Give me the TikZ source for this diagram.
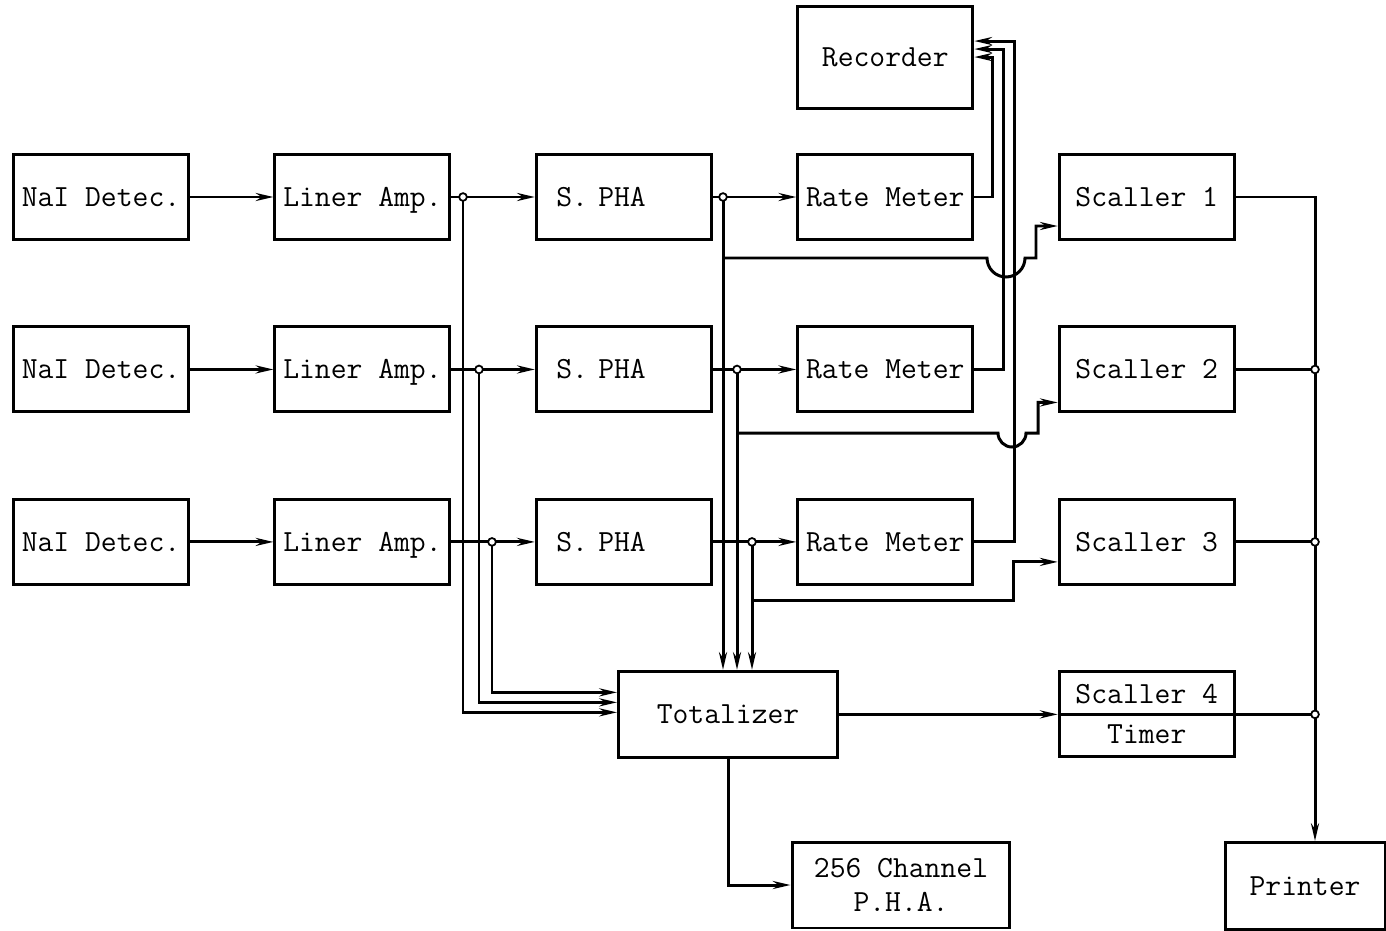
\documentclass[tikz,border=0pt]{standalone}
\usepackage{tikz}
\usetikzlibrary{arrows.meta, positioning, calc}
\tikzset{
  blk/.style  = {rectangle, draw=black, line width=1.7pt, text centered,
                 minimum height=1.7cm, minimum width=3.5cm, inner sep=0pt,
                 text height=14pt, text depth=3.3pt,
                 font=\ttfamily\fontsize{17.5}{21}\selectfont},
  two/.style  = {align=center, text height=, text depth=},
  arr/.style  = {-{Stealth[length=10pt, width=4.5pt, fill=black!45]}, line width=1.7pt},
  ln/.style   = {line width=1.7pt},
  jdot/.style = {draw=black, fill=white, line width=1pt},
}
\begin{document}
\begin{tikzpicture}[x=0.02cm, y=-0.02cm, node distance=1.69cm and 1.67cm]
  \useasboundingbox (0,0) rectangle (1386,930);

  % Column 1 - detectors
  \node[blk] (det1) at (101,197) {NaI Detec.};
  \node[blk, below=of det1] (det2) {NaI Detec.};
  \node[blk, below=of det2] (det3) {NaI Detec.};

  % Column 2 - amplifiers
  \node[blk, right=of det1] (amp1) {Liner Amp.};
  \node[blk, right=of det2] (amp2) {Liner Amp.};
  \node[blk, right=of det3] (amp3) {Liner Amp.};

  % Column 3 - single channel analysers
  \node[blk, right=of amp1, text width=2.7cm, inner xsep=0.4cm, align=left] (pha1) {S. PHA};
  \node[blk, right=of amp2, text width=2.7cm, inner xsep=0.4cm, align=left] (pha2) {S. PHA};
  \node[blk, right=of amp3, text width=2.7cm, inner xsep=0.4cm, align=left] (pha3) {S. PHA};

  % Column 4 - rate meters + recorder
  \node[blk, right=of pha1] (rm1) {Rate Meter};
  \node[blk, right=of pha2] (rm2) {Rate Meter};
  \node[blk, right=of pha3] (rm3) {Rate Meter};
  \node[blk, above=0.87cm of rm1, minimum height=2.04cm] (rec) {Recorder};

  % Column 5 - scalers
  \node[blk, right=of rm1] (sc1) {Scaller 1};
  \node[blk, right=of rm2] (sc2) {Scaller 2};
  \node[blk, right=of rm3] (sc3) {Scaller 3};
  \node[blk, two, below=of sc3,
        font=\ttfamily\fontsize{17.5}{22.8}\selectfont] (sc4) {Scaller 4\\Timer};

  % Bottom row
  \node[blk, minimum width=4.38cm, minimum height=1.72cm] (tot) at (728,0 |- sc4) {Totalizer};
  \node[blk, two, minimum width=4.36cm, minimum height=1.72cm,
        font=\ttfamily\fontsize{17.5}{19.4}\selectfont] (mca) at (901,885) {256 Channel\\P.H.A.};
  \node[blk, minimum width=3.2cm, minimum height=1.74cm] (prn) at (1305,886) {Printer};

  % Junctions
  \coordinate (ja1) at (463,0 |- amp1);
  \coordinate (ja2) at (479,0 |- amp2);
  \coordinate (ja3) at (492,0 |- amp3);
  \coordinate (jp1) at (723,0 |- pha1);
  \coordinate (jp2) at (737,0 |- pha2);
  \coordinate (jp3) at (752,0 |- pha3);
  \coordinate (b1) at (723,258);
  \coordinate (b2) at (737,433);
  \coordinate (b3) at (752,600);
  \coordinate (bus) at (1315,0 |- sc1);

  % Arrows: signal chain
  \foreach \i in {1,2,3} {
    \draw[arr] (det\i) -- (amp\i);
    \draw[arr] (amp\i) -- (pha\i);
    \draw[arr] (pha\i) -- (rm\i);
  }

  % Amplifier taps into totalizer
  \draw[arr] (ja1) |- ($(tot.west)+(0,-2)$);
  \draw[arr] (ja2) |- ($(tot.west)+(0,-12)$);
  \draw[arr] (ja3) |- ($(tot.west)+(0,-22)$);

  % S. PHA taps into totalizer
  \draw[arr] (jp1) -- (jp1 |- tot.north);
  \draw[arr] (jp2) -- (jp2 |- tot.north);
  \draw[arr] (jp3) -- (jp3 |- tot.north);

  % Rate meters -> recorder
  \draw[arr] (rm1.east) -- ++(18,0) |- ($(rec.east)+(0,0)$);
  \draw[arr] (rm2.east) -- ++(29,0) |- ($(rec.east)+(0,-8)$);
  \draw[arr] (rm3.east) -- ++(40,0) |- ($(rec.east)+(0,-16)$);

  % S. PHA -> scalers (jumping the recorder lines)
  \draw[arr] (b1) -- ++(264,0) arc[start angle=180, end angle=360, radius=0.38cm]
      -- ++(11,0) |- ($(sc1.west)+(0,29)$);
  \draw[arr] (b2) -- ++(261,0) arc[start angle=180, end angle=360, radius=0.28cm]
      -- ++(12,0) |- ($(sc2.west)+(0,33)$);
  \draw[arr] (b3) -- ++(261,0) |- ($(sc3.west)+(0,20)$);

  % Totalizer outputs
  \draw[arr] (tot) -- (sc4);
  \draw[ln] (sc4.west) -- (sc4.east) -- (sc4.east -| bus);
  \draw[arr] (tot.south) |- (mca.west);

  % Scalers -> printer
  \draw[arr] (sc1) -- (bus) -- (bus |- prn.north);
  \draw[ln] (sc2) -- (sc2 -| bus);
  \draw[ln] (sc3) -- (sc3 -| bus);

  % Junction dots
  \foreach \p in {ja1,ja2,ja3,jp1,jp2,jp3}
    \filldraw[jdot] (\p) circle[radius=2.2pt];
  \filldraw[jdot] (sc2 -| bus) circle[radius=2.2pt];
  \filldraw[jdot] (sc3 -| bus) circle[radius=2.2pt];
  \filldraw[jdot] (sc4.east -| bus) circle[radius=2.2pt];

\end{tikzpicture}
\end{document}
